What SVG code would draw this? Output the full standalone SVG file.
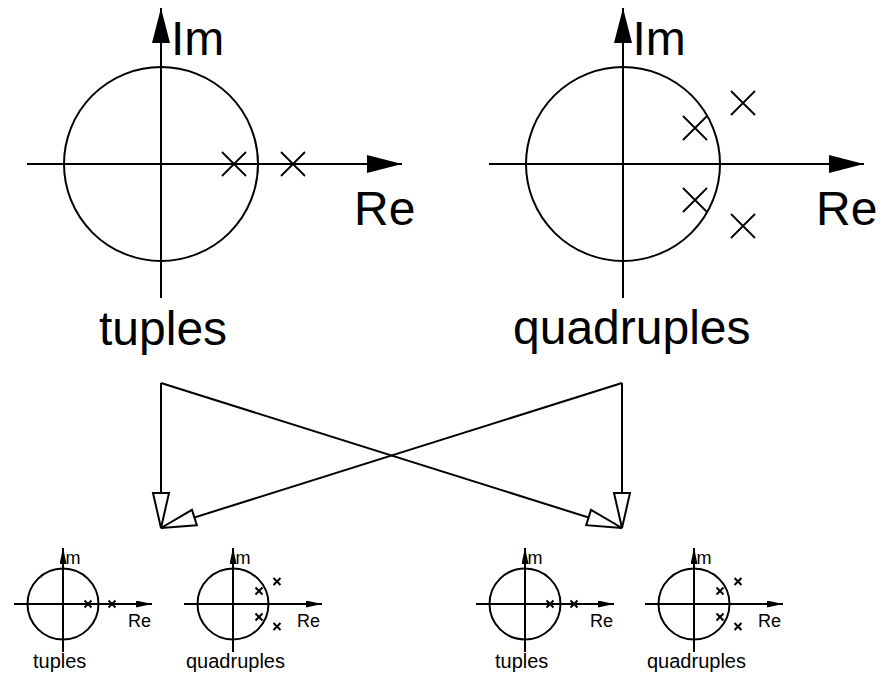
<svg xmlns="http://www.w3.org/2000/svg" width="885" height="675" viewBox="0 0 885 675">
<style>
  .ln { stroke: #000; stroke-width: 2; fill: none; }
  .x { stroke: #000; stroke-width: 1.8; fill: none; }
  .xs { stroke: #000; stroke-width: 2; fill: none; }
  .t { font-family: "Liberation Sans", Arial, sans-serif; fill: #000; }
  .big { font-size: 48px; }
  .sm { font-size: 18px; }
  .lab { font-size: 20px; }
</style>
<defs>
  <marker id="bigHead" markerUnits="userSpaceOnUse" viewBox="0 0 35 18" refX="35" refY="9" markerWidth="35" markerHeight="18" orient="auto">
    <path d="M0,0 L35,9 L0,18 Z" fill="#000"/>
  </marker>
  <marker id="smallHead" markerUnits="userSpaceOnUse" viewBox="0 0 16 7" refX="16" refY="3.5" markerWidth="16" markerHeight="7" orient="auto">
    <path d="M0,0 L16,3.5 L0,7 Z" fill="#000"/>
  </marker>
  <marker id="openHead" markerUnits="userSpaceOnUse" viewBox="-2 -2 39 20" refX="35" refY="8" markerWidth="39" markerHeight="20" orient="auto">
    <path d="M0,0 L35,8 L0,16 Z" fill="#fff" stroke="#000" stroke-width="2" stroke-linejoin="miter"/>
  </marker>
</defs>

<g id="tuples-big" transform="translate(161,164)">
  <circle class="ln" cx="0" cy="0" r="97"/>
  <line class="ln" x1="-134" y1="0" x2="241" y2="0" marker-end="url(#bigHead)"/>
  <line class="ln" x1="0" y1="134" x2="0" y2="-156" marker-end="url(#bigHead)"/>
  <path class="x" d="M61,-12 L85,12 M61,12 L85,-12 M120,-12 L144,12 M120,12 L144,-12"/>
  <text class="t big" x="10" y="-109">Im</text>
  <text class="t big" x="193" y="61">Re</text>
  <text class="t big" x="-62" y="181">tuples</text>
</g>

<g id="quadruples-big" transform="translate(623,164)">
  <circle class="ln" cx="0" cy="0" r="97"/>
  <line class="ln" x1="-134" y1="0" x2="241" y2="0" marker-end="url(#bigHead)"/>
  <line class="ln" x1="0" y1="134" x2="0" y2="-156" marker-end="url(#bigHead)"/>
  <path class="x" d="M60,-48 L84,-24 M60,-24 L84,-48 M108,-73 L132,-49 M108,-49 L132,-73 M60,24 L84,48 M60,48 L84,24 M108,50 L132,74 M108,74 L132,50"/>
  <text class="t big" x="9.5" y="-109">Im</text>
  <text class="t big" x="193" y="61">Re</text>
  <text class="t big" x="-110" y="180">quadruples</text>
</g>

<g id="connectors">
  <line class="ln" x1="161" y1="383" x2="161" y2="528" marker-end="url(#openHead)"/>
  <line class="ln" x1="161" y1="383" x2="622" y2="528" marker-end="url(#openHead)"/>
  <line class="ln" x1="622" y1="383" x2="622" y2="528" marker-end="url(#openHead)"/>
  <line class="ln" x1="622" y1="383" x2="161" y2="528" marker-end="url(#openHead)"/>
</g>

<g id="tuples-small-1" transform="translate(63,604)">
  <circle class="ln" cx="0" cy="0" r="35.5"/>
  <line class="ln" x1="-49" y1="0" x2="89" y2="0" marker-end="url(#smallHead)"/>
  <line class="ln" x1="0" y1="48" x2="0" y2="-56" marker-end="url(#smallHead)"/>
  <path class="xs" d="M21.5,-3.5 L28.5,3.5 M21.5,3.5 L28.5,-3.5 M45.5,-3.5 L52.5,3.5 M45.5,3.5 L52.5,-3.5"/>
  <text class="t sm" x="-2.5" y="-40">Im</text>
  <text class="t sm" x="65" y="23">Re</text>
  <text class="t lab" x="-30" y="64">tuples</text>
</g>

<g id="quadruples-small-1" transform="translate(233,604)">
  <circle class="ln" cx="0" cy="0" r="35.5"/>
  <line class="ln" x1="-49" y1="0" x2="89" y2="0" marker-end="url(#smallHead)"/>
  <line class="ln" x1="0" y1="48" x2="0" y2="-56" marker-end="url(#smallHead)"/>
  <path class="xs" d="M22.5,-16.5 L29.5,-9.5 M22.5,-9.5 L29.5,-16.5 M40.5,-26 L47.5,-19 M40.5,-19 L47.5,-26 M22.5,9.5 L29.5,16.5 M22.5,16.5 L29.5,9.5 M40.5,19 L47.5,26 M40.5,26 L47.5,19"/>
  <text class="t sm" x="-2.5" y="-40">Im</text>
  <text class="t sm" x="64" y="23">Re</text>
  <text class="t lab" x="-47" y="64">quadruples</text>
</g>

<g id="tuples-small-2" transform="translate(525,604)">
  <circle class="ln" cx="0" cy="0" r="35.5"/>
  <line class="ln" x1="-49" y1="0" x2="89" y2="0" marker-end="url(#smallHead)"/>
  <line class="ln" x1="0" y1="48" x2="0" y2="-56" marker-end="url(#smallHead)"/>
  <path class="xs" d="M21.5,-3.5 L28.5,3.5 M21.5,3.5 L28.5,-3.5 M45.5,-3.5 L52.5,3.5 M45.5,3.5 L52.5,-3.5"/>
  <text class="t sm" x="-2.5" y="-40">Im</text>
  <text class="t sm" x="65" y="23">Re</text>
  <text class="t lab" x="-30" y="64">tuples</text>
</g>

<g id="quadruples-small-2" transform="translate(694,604)">
  <circle class="ln" cx="0" cy="0" r="35.5"/>
  <line class="ln" x1="-49" y1="0" x2="89" y2="0" marker-end="url(#smallHead)"/>
  <line class="ln" x1="0" y1="48" x2="0" y2="-56" marker-end="url(#smallHead)"/>
  <path class="xs" d="M22.5,-16.5 L29.5,-9.5 M22.5,-9.5 L29.5,-16.5 M40.5,-26 L47.5,-19 M40.5,-19 L47.5,-26 M22.5,9.5 L29.5,16.5 M22.5,16.5 L29.5,9.5 M40.5,19 L47.5,26 M40.5,26 L47.5,19"/>
  <text class="t sm" x="-2.5" y="-40">Im</text>
  <text class="t sm" x="64" y="23">Re</text>
  <text class="t lab" x="-47" y="64">quadruples</text>
</g>
</svg>
